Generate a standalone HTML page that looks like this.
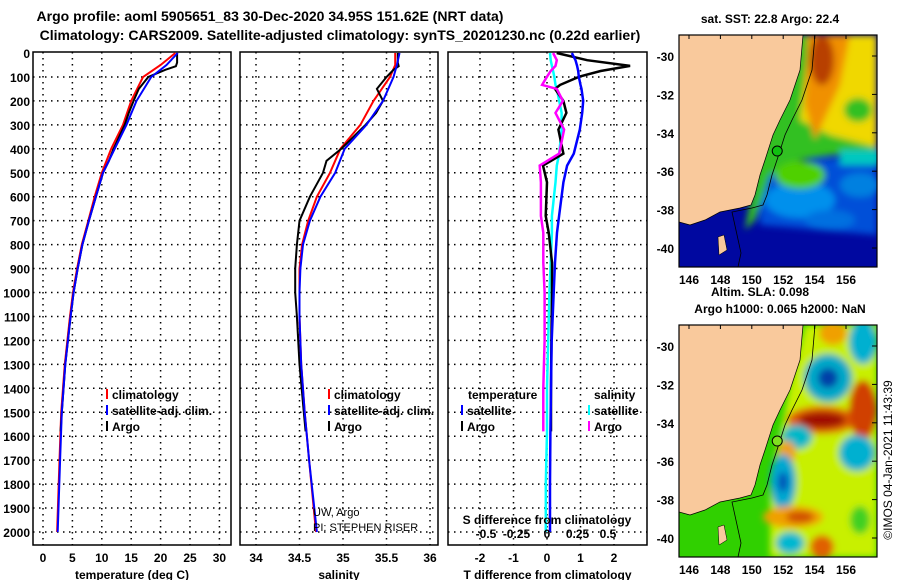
<!DOCTYPE html>
<html><head><meta charset="utf-8"><style>
body{margin:0;background:#fff;}
svg{display:block;font-family:"Liberation Sans",sans-serif;font-weight:bold;}
</style></head><body>
<svg id="c" width="900" height="580" xmlns="http://www.w3.org/2000/svg">
<defs><filter id="bl" x="-50%" y="-50%" width="200%" height="200%"><feGaussianBlur stdDeviation="3.5"/></filter>
<clipPath id="m1"><rect x="679" y="35" width="198" height="232"/></clipPath>
<clipPath id="m2"><rect x="679" y="325" width="198" height="232"/></clipPath></defs>
<text x="270" y="21" font-size="14" text-anchor="middle">Argo profile: aoml 5905651_83 30-Dec-2020 34.95S 151.62E (NRT data)</text>
<text x="340" y="40" font-size="14" text-anchor="middle">Climatology: CARS2009. Satellite-adjusted climatology: synTS_20201230.nc (0.22d earlier)</text>
<g id="plots"></g>
<g id="maps"></g>
</svg>
<script>
// ---- data ----
const depthTicks=[0,100,200,300,400,500,600,700,800,900,1000,1100,1200,1300,1400,1500,1600,1700,1800,1900,2000];
const tTicks=[0,5,10,15,20,25,30];
const sTicks=[34,34.5,35,35.5,36];
const dtTicks=[-2,-1,0,1,2];
const dsTicks=[-0.5,-0.25,0,0.25,0.5];
const dsTickLabels=['-0.5','-0.25','0','0.25','0.5'];
const climDepth=[0,50,100,200,300,400,500,600,700,800,900,1000,1100,1300,1500,1700,2000];
const tClim=[22.5,20,17,15,13.6,11.6,10,8.8,7.7,6.6,5.8,5.1,4.6,3.7,3.1,2.8,2.4];
const tSat=[22.9,21,18.4,15.9,14.2,12.2,10.2,9,7.8,6.7,5.9,5.2,4.7,3.8,3.2,2.9,2.5];
const argoDepth=[0,40,55,70,100,150,200,250,300,400,450,500,600,700,800,900,1000,1100,1300,1500,1580];
const tArgo=[22.8,22.8,22.6,20.8,17.9,16.3,15.4,14.6,13.9,12.0,11.2,10.2,9.0,7.8,6.7,5.9,5.2,4.7,3.8,3.2,3.0];
const sClim=[35.6,35.6,35.54,35.35,35.2,34.97,34.85,34.7,34.6,34.53,34.5,34.5,34.5,34.52,34.56,34.61,34.69];
const sSat=[35.65,35.62,35.58,35.46,35.27,35.02,34.91,34.74,34.62,34.54,34.51,34.5,34.5,34.52,34.56,34.61,34.7];
const sArgo=[35.63,35.63,35.64,35.58,35.5,35.39,35.46,35.38,35.26,34.98,34.81,34.77,34.62,34.5,34.47,34.45,34.45,34.47,34.5,34.55,34.57];
const dDepth=[0,30,54,75,99,133,150,200,250,320,420,470,540,680,750,875,1000,1200,1400,1580,1800,2000];
const dtSat=[0.74,0.85,0.9,0.93,0.95,1.0,1.03,1.08,1.05,0.98,0.8,0.6,0.49,0.36,0.3,0.24,0.2,0.14,0.12,0.1,0.09,0.09];
const dtArgo=[0.29,1.2,2.48,1.6,0.96,0.39,0.24,0.49,0.58,0.34,0.49,-0.12,0.0,-0.04,0.05,0.15,0.15,0.13,0.12,0.12,null,null];
const dsSat=[0.025,0.03,0.04,0.05,0.06,0.07,0.08,0.1,0.12,0.12,0.1,0.08,0.07,0.04,0.04,0.03,0.02,0.01,0.0,0.0,-0.01,-0.01];
const dsArgo=[0.05,0.08,0.07,0.03,0.0,-0.04,0.08,0.13,0.07,0.14,0.1,-0.06,-0.05,-0.05,-0.03,-0.03,-0.02,-0.02,-0.03,-0.03,null,null];

const NS='http://www.w3.org/2000/svg';
const root=document.getElementById('plots');
function mk(tag,at,parent){const e=document.createElementNS(NS,tag);for(const k in at)e.setAttribute(k,at[k]);(parent||root).appendChild(e);return e;}
const yD=d=>53+d*0.2395;
const panels=[
 {x0:33,x1:231,f:v=>43+v*5.88,ticks:tTicks,labels:tTicks.map(String),title:'temperature (deg C)',name:'temperature'},
 {x0:240,x1:438,f:v=>256+(v-34)*87,ticks:sTicks,labels:sTicks.map(String),title:'salinity',name:'salinity'},
 {x0:448,x1:647,f:v=>547+v*33.5,ticks:dtTicks,labels:dtTicks.map(String),title:'T difference from climatology',name:'difference'}
];
const fS=v=>547+v*122;
panels.forEach((p,i)=>{
  const g=mk('g',{});
  
  
  p.ticks.forEach((t,j)=>{
    const x=p.f(t);
    const l=mk('line',{x1:x,x2:x,y1:52,y2:545,stroke:'#000','stroke-dasharray':'1.5,4.5','stroke-width':1.5},g);
    
    
    const tx=mk('text',{x:x,y:562,'font-size':12,'text-anchor':'middle'},g);tx.textContent=p.labels[j];
    
    
  });
  depthTicks.forEach(d=>{
    const y=yD(d);
    if(d>0){const l=mk('line',{x1:p.x0,x2:p.x1,y1:y,y2:y,stroke:'#000','stroke-dasharray':'1.5,4.5','stroke-width':1.5},g);
    
    }
    if(i==0){const t=mk('text',{x:30,y:y+5,'font-size':12,'text-anchor':'end'},g);t.textContent=d;
    
    }
  });
  const tt=mk('text',{x:(p.x0+p.x1)/2,y:579,'font-size':12,'text-anchor':'middle'},g);tt.textContent=p.title;
  
  
  const r=mk('rect',{x:p.x0,y:52,width:p.x1-p.x0,height:493,fill:'none',stroke:'#000','stroke-width':1.5},g);
  
  
});
function line(depths,vals,f,color,name,w){
  let d='';let pen=false;
  depths.forEach((dp,k)=>{const v=vals[k];if(v==null){pen=false;return;}d+=(pen?'L':'M')+f(v).toFixed(1)+','+yD(dp).toFixed(1);pen=true;});
  const e=mk('path',{d:d,fill:'none',stroke:color,'stroke-width':w||2});
  
  
}
const P=panels;
line(climDepth,tClim,P[0].f,'#f00','temp-climatology-line');
line(argoDepth,tArgo,P[0].f,'#000','temp-argo-line');
line(climDepth,tSat,P[0].f,'#00f','temp-satellite-line');
line(climDepth,sClim,P[1].f,'#f00','sal-climatology-line');
line(argoDepth,sArgo,P[1].f,'#000','sal-argo-line');
line(climDepth,sSat,P[1].f,'#00f','sal-satellite-line');
line(dDepth,dsSat,fS,'#0ff','sdiff-satellite-line',2.5);
line(dDepth,dtArgo,P[2].f,'#000','tdiff-argo-line',2.5);
line(dDepth,dtSat,P[2].f,'#00f','tdiff-satellite-line',2.5);
line(dDepth,dsArgo,fS,'#f0f','sdiff-argo-line',2.5);
dsTicks.forEach((t,j)=>{const e=mk('text',{x:fS(t),y:538,'font-size':12,'text-anchor':'middle'});e.textContent=dsTickLabels[j];

});
const st=mk('text',{x:547,y:524,'font-size':12,'text-anchor':'middle'});st.textContent='S difference from climatology';


function leg(x,y,color,label,name){
  const r=mk('rect',{x:x,y:y-10,width:2,height:10,fill:color});
  
  
  const t=mk('text',{x:x+6,y:y,'font-size':12});t.textContent=label;
  
  
}
[[106,'#f00','climatology'],[106,'#00f','satellite-adj. clim.'],[106,'#000','Argo']].forEach((a,k)=>leg(a[0],399+k*16,a[1],a[2],'legend-entry'));
[[328,'#f00','climatology'],[328,'#00f','satellite-adj. clim.'],[328,'#000','Argo']].forEach((a,k)=>leg(a[0],399+k*16,a[1],a[2],'legend-entry'));
const lt=mk('text',{x:468,y:399,'font-size':12});lt.textContent='temperature';


const ls=mk('text',{x:594,y:399,'font-size':12});ls.textContent='salinity';


leg(461,415,'#00f','satellite','legend-entry');leg(461,431,'#000','Argo','legend-entry');
leg(588,415,'#0ff','satellite','legend-entry');leg(588,431,'#f0f','Argo','legend-entry');
const u1=mk('text',{x:313,y:516,'font-size':11,'font-weight':'normal'});u1.textContent='UW, Argo';


const u2=mk('text',{x:313,y:531,'font-size':11,'font-weight':'normal'});u2.textContent='PI: STEPHEN RISER';



// ---- maps ----
const lonTicks=[146,148,150,152,154,156];
const latTicks=[-30,-32,-34,-36,-38,-40];
const mroot=document.getElementById('maps');
const lonX=l=>689+(l-146)*15.7;
const coast=[[803,35],[800,70],[790,100],[780,120],[773,135],[765,160],[760,175],[755,195],[751,205],[740,208],[720,212],[705,220],[690,225],[679,222]];
function map(y0,kind){
  const latY=la=>y0+21+(-30-la)*19.2;
  const g=mk('g',{},mroot);
  
  
  const cl=mk('g',{'clip-path':'url(#'+(y0<100?'m1':'m2')+')'},g);
  const dy=y0-35;
  const add=(tag,at)=>mk(tag,at,cl);
  const E=(b,cx,cy,rx,ry,f)=>mk('ellipse',{cx:cx,cy:cy,rx:rx,ry:ry,fill:f},b);
  if(kind=='sst'){
    add('rect',{x:679,y:y0,width:198,height:232,fill:'#0008a0'});
    const b=mk('g',{filter:'url(#bl)'},cl);
    mk('polygon',{points:`760,${y0+130} 877,${y0+120} 877,${y0+200} 820,${y0+195} 760,${y0+190}`,fill:'#0050d8'},b);
    E(b,800,y0+165,35,18,'#0090ec');E(b,860,y0+150,20,12,'#0080e0');E(b,830,y0+185,25,10,'#0070e0');
    mk('polygon',{points:`780,${y0} 877,${y0} 877,${y0+125} 835,${y0+120} 800,${y0+125} 770,${y0+140} 755,${y0+185} 745,${y0+195}`,fill:'#30c020'},b);
    E(b,800,y0+140,25,14,'#50d000');
    mk('rect',{x:840,y:y0+115,width:40,height:15,fill:'#00c8c0'},b);
    mk('polygon',{points:`810,${y0} 877,${y0} 877,${y0+112} 830,${y0+100} 800,${y0+85}`,fill:'#f0d800'},b);
    E(b,858,y0+75,14,12,'#30c020');
    mk('polygon',{points:`808,${y0} 850,${y0} 840,${y0+50} 815,${y0+105} 805,${y0+70}`,fill:'#f09000'},b);
    E(b,822,y0+25,12,25,'#b84000');
  } else {
    add('rect',{x:679,y:y0,width:198,height:232,fill:'#30d000'});
    const b=mk('g',{filter:'url(#bl)'},cl);
    mk('polygon',{points:`805,${y0} 877,${y0} 877,${y0+232} 770,${y0+232} 770,${y0+160} 790,${y0+60}`,fill:'#c8f000'},b);
    E(b,833,333,14,12,'#f0a000');
    E(b,863,342,14,22,'#00b0d0');
    E(b,828,378,24,24,'#00a8c8');E(b,828,378,10,10,'#0040a8');
    E(b,822,420,35,14,'#e06000');E(b,822,420,24,8,'#a00800');
    E(b,863,410,14,30,'#d04000');
    E(b,797,437,15,12,'#00b8c8');
    E(b,857,453,18,18,'#00b0d0');
    E(b,787,453,9,12,'#f0a000');
    E(b,783,482,13,28,'#00a8d0');E(b,783,482,5,10,'#0050b8');
    E(b,793,517,30,11,'#f0a000');E(b,800,517,14,6,'#d05000');
    E(b,790,543,14,11,'#00b8d0');
    E(b,822,547,12,12,'#e06000');
    E(b,860,520,10,14,'#40d020');
  }
  const pts=coast.map(p=>p[0]+','+(p[1]+dy)).join(' ')+` 679,${y0} 803,${y0}`;
  const land=add('polygon',{points:pts,fill:'#f9c99c',stroke:'#000','stroke-width':0.7});
  
  
  const isl=add('polygon',{points:`718,${y0+202} 724,${y0+200} 727,${y0+215} 719,${y0+220}`,fill:'#f9c99c',stroke:'#000','stroke-width':0.5});
  
  
  const iso=add('polyline',{points:coast.map(p=>(p[0]+12)+','+(p[1]+dy)).slice(0,11).join(' ')+` 741,${y0+218} 738,${y0+232}`,fill:'none',stroke:'#000','stroke-width':0.8});
  
  
  const fl=add('circle',{cx:lonX(151.62),cy:latY(-34.95),r:5,fill:kind=='sst'?'#10c010':'#80e020',stroke:'#000'});
  
  
  const fr=mk('rect',{x:679,y:y0,width:198,height:232,fill:'none',stroke:'#000','stroke-width':1.2},g);
  
  
  latTicks.forEach(la=>{const y=latY(la);
    mk('line',{x1:877,x2:872,y1:y,y2:y,stroke:'#000'},g);
    const t=mk('text',{x:674,y:y+5,'font-size':12,'text-anchor':'end'},g);t.textContent=la;
    
    });
  lonTicks.forEach(lo=>{const x=lonX(lo);
    mk('line',{x1:x,x2:x,y1:y0,y2:y0+4,stroke:'#000'},g);
    const t=mk('text',{x:x,y:y0+249,'font-size':12,'text-anchor':'middle'},g);t.textContent=lo;
    
    });
}
map(35,'sst');map(325,'sla');
function txt(x,y,s,name,extra){const t=mk('text',Object.assign({x:x,y:y,'font-size':12,'text-anchor':'middle'},extra||{}),mroot);t.textContent=s;

}
txt(770,23,'sat. SST: 22.8 Argo: 22.4','sst-label');
txt(760,296,'Altim. SLA: 0.098','sla-label');
txt(780,313,'Argo h1000: 0.065 h2000: NaN','steric-height-label');
txt(892,460,'©IMOS 04-Jan-2021 11:43:39','timestamp',{'font-weight':'normal',transform:'rotate(-90 892 460)'});
</script>
</body></html>
